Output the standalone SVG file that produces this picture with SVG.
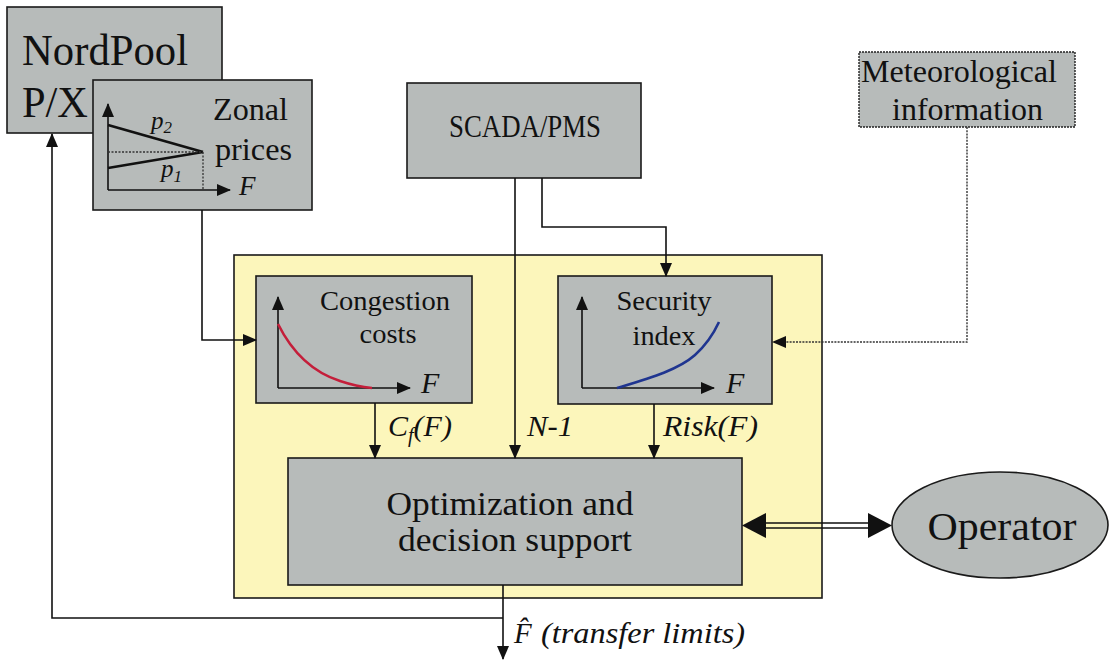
<svg xmlns="http://www.w3.org/2000/svg" width="1109" height="661" viewBox="0 0 1109 661">
  <style>
    .box { fill: #b7bbba; stroke: #1a1a1a; stroke-width: 1.6; }
    .frame { fill: #fcf6bb; stroke: #1a1a1a; stroke-width: 1.6; }
    text { font-family: "Liberation Serif", "Times New Roman", Times, Tinos, "Noto Serif", "DejaVu Serif", FreeSerif, serif; fill: #111; }
    .i { font-style: italic; }
    .ln { fill: none; stroke: #111; stroke-width: 1.6; }
    .dot { fill: none; stroke: #333; stroke-width: 1.4; stroke-dasharray: 2 1.2; }
    .ax { fill: none; stroke: #111; stroke-width: 1.6; }
  </style>
  <defs>
    <marker id="arr" markerUnits="userSpaceOnUse" markerWidth="14" markerHeight="12" refX="13" refY="6" orient="auto">
      <path d="M0,0 L14,6 L0,12 z" fill="#111"/>
    </marker>
  </defs>

  <rect width="1109" height="661" fill="#ffffff"/>

  <!-- yellow frame around the analysis blocks -->
  <g id="analysis-frame">
    <rect class="frame" x="234" y="255" width="588" height="343"/>
  </g>

  <!-- market source -->
  <g id="nordpool">
    <rect class="box" x="7" y="7" width="215" height="126"/>
    <text x="22" y="65" font-size="44" textLength="166" lengthAdjust="spacingAndGlyphs">NordPool</text>
    <text x="22" y="117" font-size="44" textLength="66" lengthAdjust="spacingAndGlyphs">P/X</text>
  </g>

  <g id="zonal-prices">
    <rect class="box" x="93" y="80" width="219" height="130"/>
    <path class="ax" d="M108,190 V104" marker-end="url(#arr)"/>
    <path class="ax" d="M108,190 H230" marker-end="url(#arr)"/>
    <path d="M108,125 L203,152" stroke="#111" stroke-width="2.6" fill="none"/>
    <path d="M108,168 L203,152" stroke="#111" stroke-width="2.6" fill="none"/>
    <path d="M108,152 H203 M203,152 V190" stroke="#333" stroke-width="1.3" stroke-dasharray="2 1.5" fill="none"/>
    <text class="i" x="151" y="129" font-size="25">p<tspan font-size="17" dy="4">2</tspan></text>
    <text class="i" x="161" y="177" font-size="25">p<tspan font-size="17" dy="5">1</tspan></text>
    <text class="i" x="239" y="195" font-size="27">F</text>
    <text x="213" y="120" font-size="32" textLength="75" lengthAdjust="spacingAndGlyphs">Zonal</text>
    <text x="215" y="160" font-size="32" textLength="77" lengthAdjust="spacingAndGlyphs">prices</text>
  </g>

  <g id="scada">
    <rect class="box" x="407" y="83" width="234" height="95"/>
    <text x="525" y="137" font-size="31" text-anchor="middle" textLength="152" lengthAdjust="spacingAndGlyphs">SCADA/PMS</text>
  </g>

  <g id="meteo">
    <rect x="859" y="52" width="216" height="75" fill="#b7bbba" stroke="#222" stroke-width="1.4" stroke-dasharray="2 1"/>
    <text x="861" y="82" font-size="32" textLength="196" lengthAdjust="spacingAndGlyphs">Meteorological</text>
    <text x="892" y="120" font-size="32" textLength="151" lengthAdjust="spacingAndGlyphs">information</text>
  </g>

  <g id="congestion">
    <rect class="box" x="256" y="276" width="216" height="127"/>
    <path class="ax" d="M278,388 V297" marker-end="url(#arr)"/>
    <path class="ax" d="M278,388 H410" marker-end="url(#arr)"/>
    <path d="M278,324 C292,352 312,372 340,381 C352,385 362,387 372,388" stroke="#c41e3a" stroke-width="2.6" fill="none"/>
    <text x="385" y="310" font-size="28" text-anchor="middle" textLength="130" lengthAdjust="spacingAndGlyphs">Congestion</text>
    <text x="388" y="343" font-size="28" text-anchor="middle" textLength="57" lengthAdjust="spacingAndGlyphs">costs</text>
    <text class="i" x="421" y="393" font-size="30">F</text>
  </g>

  <g id="security">
    <rect class="box" x="558" y="276" width="214" height="128"/>
    <path class="ax" d="M582,388 V297" marker-end="url(#arr)"/>
    <path class="ax" d="M582,388 H714" marker-end="url(#arr)"/>
    <path d="M617,388 C650,378 678,370 695,355 C706,345 713,335 719,322" stroke="#1f3590" stroke-width="2.6" fill="none"/>
    <text x="664" y="310" font-size="28" text-anchor="middle" textLength="95" lengthAdjust="spacingAndGlyphs">Security</text>
    <text x="664" y="345" font-size="28" text-anchor="middle" textLength="63" lengthAdjust="spacingAndGlyphs">index</text>
    <text class="i" x="726" y="393" font-size="30">F</text>
  </g>

  <g id="optimization">
    <rect class="box" x="288" y="458" width="454" height="127"/>
    <text x="510" y="515" font-size="34" text-anchor="middle" textLength="247" lengthAdjust="spacingAndGlyphs">Optimization and</text>
    <text x="515" y="551" font-size="34" text-anchor="middle" textLength="234" lengthAdjust="spacingAndGlyphs">decision support</text>
  </g>

  <g id="operator">
    <ellipse cx="1000" cy="525" rx="108" ry="53" fill="#b7bbba" stroke="#1a1a1a" stroke-width="1.6"/>
    <text x="1002" y="540" font-size="40" text-anchor="middle" textLength="149" lengthAdjust="spacingAndGlyphs">Operator</text>
  </g>

  <g id="connectors">
    <!-- zonal prices into congestion costs -->
    <path class="ln" d="M202,210 V340 H256" marker-end="url(#arr)"/>
    <!-- SCADA/PMS: N-1 straight down, measurements to security index -->
    <path class="ln" d="M515,178 V458" marker-end="url(#arr)"/>
    <path class="ln" d="M542,178 V227 H666 V276" marker-end="url(#arr)"/>
    <!-- weather data, dotted -->
    <path class="dot" d="M967,127 V342 H786"/>
    <path d="M772,342 L786,336 L786,348 z" fill="#111"/>
    <!-- analysis outputs into optimization -->
    <path class="ln" d="M375,403 V458" marker-end="url(#arr)"/>
    <path class="ln" d="M654,404 V458" marker-end="url(#arr)"/>
    <!-- transfer limits out, and feedback to the market -->
    <path class="ln" d="M503,585 V659" marker-end="url(#arr)"/>
    <path class="ln" d="M503,618 H52 V134" marker-end="url(#arr)"/>
    <!-- two-way link with the operator -->
    <path d="M764,523 H870 M764,528 H870" stroke="#111" stroke-width="1.6" fill="none"/>
    <path d="M742,525.5 L766,513 L766,538 z" fill="#111"/>
    <path d="M892,525.5 L868,513 L868,538 z" fill="#111"/>

    <text class="i" x="388" y="436" font-size="30">C<tspan font-size="20" dy="6">f</tspan><tspan dy="-6">(F)</tspan></text>
    <text class="i" x="527" y="436" font-size="30" textLength="46" lengthAdjust="spacingAndGlyphs">N-1</text>
    <text class="i" x="663" y="436" font-size="30" textLength="95" lengthAdjust="spacingAndGlyphs">Risk(F)</text>
    <text class="i" x="514" y="643" font-size="29">F&#x302;</text>
    <text class="i" x="541" y="643" font-size="29" textLength="204" lengthAdjust="spacingAndGlyphs">(transfer limits)</text>
  </g>
</svg>
